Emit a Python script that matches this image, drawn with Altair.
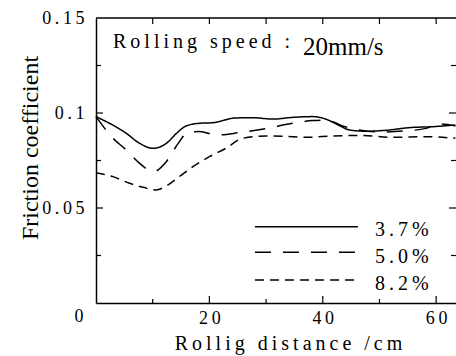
import altair as alt
import pandas as pd

SERIES = ["3.7%", "5.0%", "8.2%"]

x_37 = [0, 5.35, 7.7, 10.1, 12.4, 14.2, 15.9, 18.3, 20.6, 24.7, 27.7, 31.2, 34.7, 38.2, 40.6, 42.4, 44.7, 47.6, 51.2, 55.3, 59.4, 63.4]
y_37 = [0.0981, 0.0893, 0.0840, 0.0814, 0.0840, 0.0893, 0.0932, 0.0946, 0.0949, 0.0974, 0.0975, 0.0968, 0.0977, 0.0981, 0.0967, 0.0942, 0.0911, 0.0904, 0.0909, 0.0923, 0.0928, 0.0937]

x_50 = [0, 3.0, 5.35, 7.7, 10.1, 12.4, 14.5, 16.2, 18.3, 21.2, 25.3, 30.0, 34.7, 38.2, 40.6, 43.5, 46.4, 50.0, 54.1, 58.2, 60.6, 63.4]
y_50 = [0.0981, 0.0867, 0.0805, 0.0735, 0.0691, 0.0744, 0.0840, 0.0897, 0.0902, 0.0884, 0.0897, 0.0918, 0.0946, 0.0960, 0.0963, 0.0932, 0.0911, 0.0900, 0.0905, 0.0919, 0.0942, 0.0932]

x_82 = [0, 3.0, 5.9, 8.3, 10.6, 12.4, 14.7, 17.1, 20.0, 22.9, 25.9, 30.0, 34.7, 37.1, 41.8, 46.4, 52.3, 58.2, 63.4]
y_82 = [0.0686, 0.0665, 0.0630, 0.0609, 0.0595, 0.0616, 0.0665, 0.0718, 0.0770, 0.0814, 0.0867, 0.0879, 0.0875, 0.0872, 0.0879, 0.0882, 0.0872, 0.0875, 0.0867]

X_LABELS = [20, 40, 60]
Y_LABELS = [0.05, 0.1, 0.15]
X_MAJOR = [20, 40, 60]
X_MINOR = [10, 30, 50]
X_TOP = [10, 20, 30, 40, 50, 60]
Y_MAJOR = [0.05, 0.1]
Y_MINOR = [0.025, 0.075, 0.125]

TITLE_A = "Rolling speed :"
TITLE_B = "20mm/s"
X_TITLE = "Rollig distance /cm"
Y_TITLE = "Friction coefficient"
ORIGIN = "0"

W, H = 360, 285
XMAX, YMAX = 63.5, 0.15
FONT = "Liberation Serif"
TS = "\u2009"


def sp(s):
    return TS.join(s)


rows = []
for name, xs, ys in zip(SERIES, [x_37, x_50, x_82], [y_37, y_50, y_82]):
    rows += [{"series": name, "dist": a, "mu": b} for a, b in zip(xs, ys)]
df = pd.DataFrame(rows)

xscale = alt.Scale(domain=[0, XMAX], nice=False, zero=False)
yscale = alt.Scale(domain=[0, YMAX], nice=False)
DASHES = [[1, 0], [16, 12], [9, 6]]
lbl_expr = "join(split(toString(datum.value), ''), '" + TS + "')"

lines = alt.Chart(df).mark_line(color="black", strokeWidth=1.5, interpolate="monotone").encode(
    x=alt.X("dist:Q", scale=xscale, axis=alt.Axis(
        values=X_LABELS, labelExpr=lbl_expr, title=sp(X_TITLE), ticks=False, tickSize=0,
        labelFont=FONT, labelFontSize=18, labelColor="black", labelBaseline="alphabetic",
        labelPadding=20, domain=True, domainColor="black", domainWidth=1.5, grid=False,
        titleFont=FONT, titleFontSize=20, titleFontWeight="normal", titleColor="black",
        titleX=192, titleY=46, titleBaseline="alphabetic", titleAlign="center")),
    y=alt.Y("mu:Q", scale=yscale, axis=alt.Axis(
        values=Y_LABELS, labelExpr=lbl_expr, title=Y_TITLE, ticks=False, tickSize=0,
        labelFont=FONT, labelFontSize=18, labelColor="black", labelBaseline="middle",
        labelPadding=12, domain=True, domainColor="black", domainWidth=1.5, grid=False,
        titleFont=FONT, titleFontSize=24, titleFontWeight="normal", titleColor="black",
        titleX=-59, titleY=129.5, titleAngle=270, titleBaseline="alphabetic", titleAlign="center")),
    strokeDash=alt.StrokeDash("series:N", scale=alt.Scale(domain=SERIES, range=DASHES), legend=None),
    detail="series:N",
)


def xticks(vals, y0, y1):
    return alt.Chart(pd.DataFrame({"dist": vals})).mark_rule(color="black", strokeWidth=1.2).encode(
        x=alt.X("dist:Q", scale=xscale), y=alt.value(y0), y2=alt.value(y1))


def yticks(vals, x0, x1):
    return alt.Chart(pd.DataFrame({"mu": vals})).mark_rule(color="black", strokeWidth=1.2).encode(
        y=alt.Y("mu:Q", scale=yscale), x=alt.value(x0), x2=alt.value(x1))


ticks = [
    xticks(X_MAJOR, H, H - 7),
    xticks(X_MINOR, H, H - 4),
    xticks(X_TOP, 0, 6),
    yticks(Y_MAJOR, 0, 7),
    yticks(Y_MINOR, 0, 5),
    yticks(Y_MAJOR, W, W - 7),
    yticks(Y_MINOR, W, W - 5),
]

top_line = alt.Chart(pd.DataFrame({"a": [0]})).mark_rule(color="black", strokeWidth=1.5).encode(
    x=alt.value(0), x2=alt.value(W), y=alt.value(0))

base = alt.Chart(pd.DataFrame({"a": [0]}))

texts = [
    base.mark_text(font=FONT, fontSize=20, align="left", baseline="alphabetic", color="black").encode(
        x=alt.value(17), y=alt.value(30.3), text=alt.value(sp(TITLE_A))),
    base.mark_text(font=FONT, fontSize=25, align="left", baseline="alphabetic", color="black").encode(
        x=alt.value(207), y=alt.value(37), text=alt.value(TITLE_B)),
    base.mark_text(font=FONT, fontSize=18, align="center", baseline="alphabetic", color="black").encode(
        x=alt.value(-17), y=alt.value(304), text=alt.value(ORIGIN)),
]

leg_y = [208.7, 234.3, 262]
leg_ty = [218, 245.3, 272]
legend = []
for name, dash, ly, ty in zip(SERIES, DASHES, leg_y, leg_ty):
    legend.append(base.mark_rule(color="black", strokeWidth=1.5, strokeDash=dash).encode(
        x=alt.value(159), x2=alt.value(262), y=alt.value(ly)))
    legend.append(base.mark_text(font=FONT, fontSize=20, align="left", baseline="alphabetic", color="black").encode(
        x=alt.value(279), y=alt.value(ty), text=alt.value(sp(name))))

chart = alt.layer(lines, *ticks, top_line, *texts, *legend).properties(
    width=W, height=H,
    autosize=alt.AutoSizeParams(type="none"),
    padding={"left": 96, "top": 18, "right": 0, "bottom": 53},
    background="white",
).configure_view(stroke=None)

chart.save("out.html", embed_options={"renderer": "svg", "actions": False})
